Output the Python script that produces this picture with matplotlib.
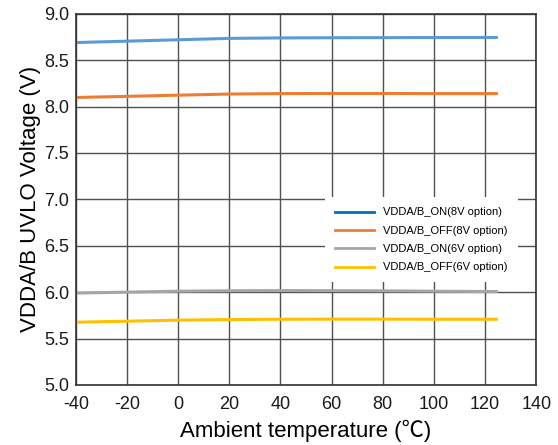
import matplotlib.pyplot as plt

plt.rcParams['font.family'] = ['Liberation Sans', 'DejaVu Sans']
plt.rcParams['axes.unicode_minus'] = False

# DATA
TEMP = [-40, -20, 0, 20, 40, 60, 80, 100, 125]
ON_8V = [8.69, 8.705, 8.72, 8.735, 8.74, 8.742, 8.743, 8.744, 8.745]
OFF_8V = [8.098, 8.11, 8.123, 8.135, 8.14, 8.141, 8.141, 8.14, 8.14]
ON_6V = [5.99, 6.0, 6.01, 6.015, 6.017, 6.016, 6.014, 6.01, 6.006]
OFF_6V = [5.676, 5.687, 5.698, 5.705, 5.708, 5.709, 5.709, 5.708, 5.708]

LABELS = ['VDDA/B_ON(8V option)', 'VDDA/B_OFF(8V option)',
          'VDDA/B_ON(6V option)', 'VDDA/B_OFF(6V option)']
COLORS = ['#5B9BD5', '#ED7D31', '#A5A5A5', '#FFC000']
LEG_COLORS = ['#0070C0', '#ED7D31', '#A5A5A5', '#FFC000']

fig, ax = plt.subplots(figsize=(5.58, 4.45), dpi=100)
fig.subplots_adjust(left=0.136, right=0.961, top=0.969, bottom=0.135)

for ys, c in zip([ON_8V, OFF_8V, ON_6V, OFF_6V], COLORS):
    ax.plot(TEMP, ys, color=c, lw=2.2, solid_capstyle='butt')

ax.set_xlim(-40, 140)
ax.set_ylim(5.0, 9.0)
ax.set_xticks(range(-40, 141, 20))
ax.set_yticks([5.0 + 0.5 * i for i in range(9)])
ax.set_yticklabels(['%.1f' % (5.0 + 0.5 * i) for i in range(9)])
ax.grid(True, color='#505050', lw=1.0)
ax.set_axisbelow(True)
ax.tick_params(length=0, labelsize=13, colors='#1a1a1a')
ax.tick_params(axis='x', pad=8)
ax.tick_params(axis='y', pad=5)
for s in ax.spines.values():
    s.set_color('#333333')
    s.set_linewidth(1.2)

ax.set_xlabel('Ambient temperature (\u2103)', fontsize=16, labelpad=5,
              family=['Liberation Sans', 'Noto Sans CJK SC'])
ax.set_ylabel('VDDA/B UVLO Voltage (V)', fontsize=16, labelpad=2)

handles = [plt.Line2D([], [], color=c, lw=2) for c in LEG_COLORS]
leg = ax.legend(handles, LABELS, loc='upper left',
                bbox_to_anchor=(0.53, 0.52), frameon=True, fontsize=8,
                handlelength=3.5, labelspacing=0.75, borderpad=0.9,
                handletextpad=0.8, fancybox=False)
leg.get_frame().set_edgecolor('none')
leg.get_frame().set_alpha(1.0)

plt.savefig('out.png', dpi=100)
plt.close(fig)
